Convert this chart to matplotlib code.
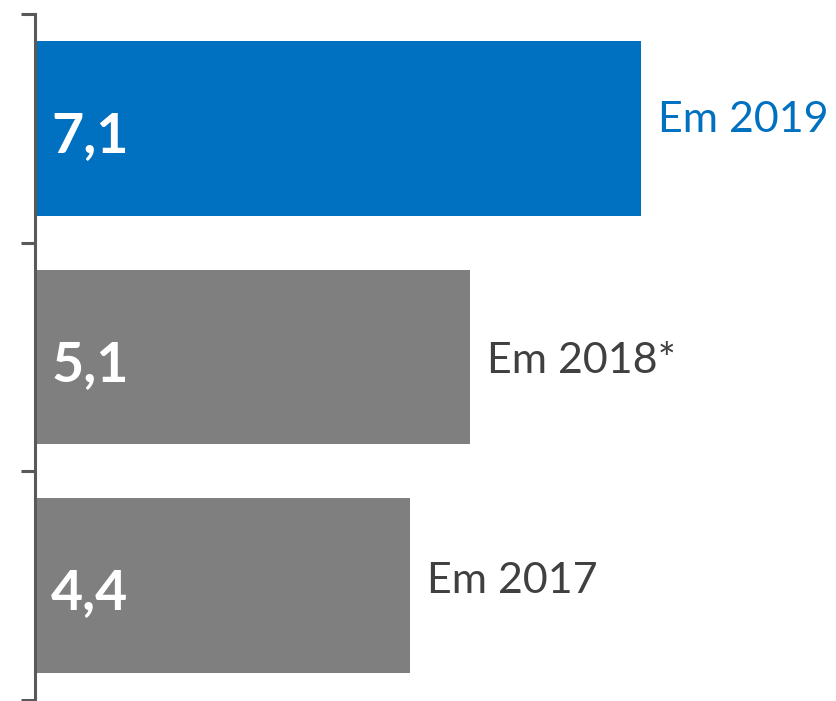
import matplotlib
matplotlib.use("Agg")
import matplotlib.pyplot as plt

years = ["Em 2017", "Em 2018*", "Em 2019"]
values = [4.4, 5.1, 7.1]
value_labels = ["4,4", "5,1", "7,1"]
bar_colors = ["#7F7F7F", "#7F7F7F", "#0070C0"]
label_colors = ["#404040", "#404040", "#0070C0"]
label_dy = [-0.032, -0.070, -0.016]

plt.rcParams['font.family'] = ['Lato', 'DejaVu Sans']

fig = plt.figure(figsize=(8.36, 7.01), dpi=100)
ax = fig.add_axes([35/836, 1 - 700/701, 1 - 35/836, 686/701])

ypos = list(range(len(values)))
ax.barh(ypos, values, height=0.765, color=bar_colors)
ax.set_xlim(0, 801/85.3)
ax.set_ylim(-0.5, 2.5)

for y, v, vl, yl, lc, dy in zip(ypos, values, value_labels, years, label_colors, label_dy):
    ax.text(0.19, y - 0.103, vl, color="white", fontsize=40, fontweight="bold",
            va="baseline", ha="left")
    ax.text(v + 0.2, y + dy, yl, color=lc, fontsize=31, va="baseline", ha="left")

for s in ["top", "right", "bottom"]:
    ax.spines[s].set_visible(False)
ax.spines["left"].set_color("#595959")
ax.spines["left"].set_linewidth(2.2)
ax.set_xticks([])
ax.set_yticks([-0.5, 0.5, 1.5, 2.5])
ax.set_yticklabels([])
ax.tick_params(axis="y", length=10, width=2.2, color="#595959", direction="out")

fig.savefig("out.png", dpi=100)
